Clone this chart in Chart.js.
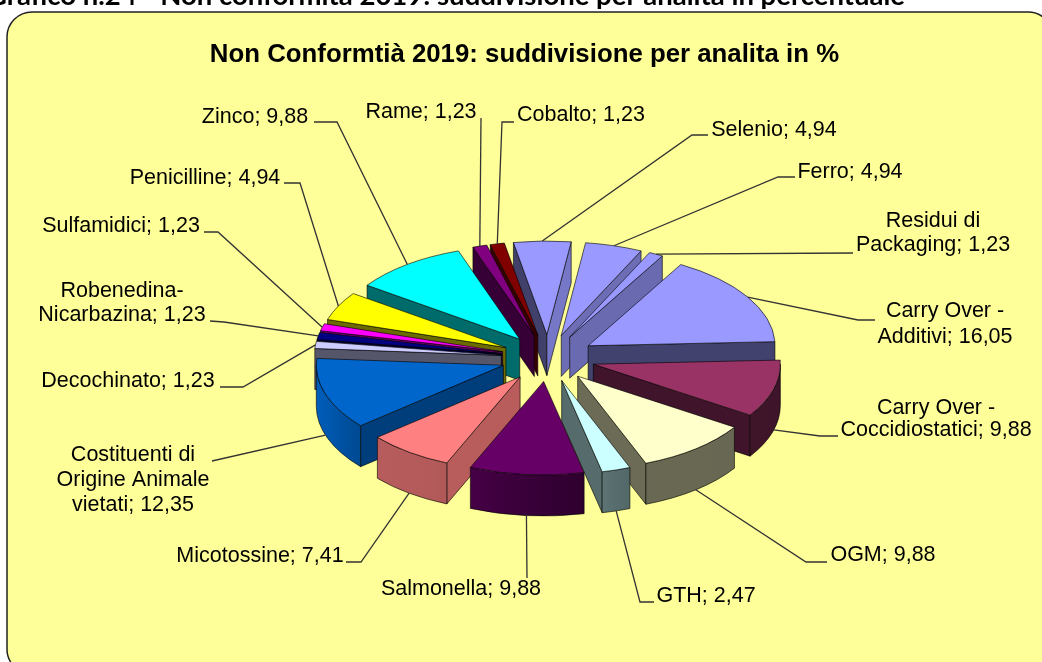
<!DOCTYPE html>
<html><head><meta charset="utf-8">
<style>html,body{margin:0;padding:0;background:#fff;overflow:hidden}canvas{display:block}</style>
<script src="https://cdn.jsdelivr.net/npm/chart.js@4"></script>
</head><body><canvas id="c" width="1042" height="662"></canvas>
<script>
const categories = ["Selenio","Ferro","Residui di\nPackaging","Carry Over -\nAdditivi","Carry Over -\nCoccidiostatici","OGM","GTH","Salmonella","Micotossine","Costituenti di\nOrigine Animale\nvietati","Decochinato","Robenedina-\nNicarbazina","Sulfamidici","Penicilline","Zinco","Rame","Cobalto"];
const values = [4.94,4.94,1.23,16.05,9.88,9.88,2.47,9.88,7.41,12.35,1.23,1.23,1.23,4.94,9.88,1.23,1.23];
const colors = ["#9999FF","#9999FF","#9999FF","#9999FF","#993366","#FFFFCC","#CCFFFF","#660066","#FF8080","#0066CC","#CCCCFF","#000080","#FF00FF","#FFFF00","#00FFFF","#800080","#800000"];
const pageHeading = "Grafico n.24 - Non conformità 2019: suddivisione per analita in percentuale";
const chartTitle = "Non Conformtià 2019: suddivisione per analita in %";

// label placement: text centre x, first line centre y, line step, leader knee points
const labelLayout = [
 {x:774,y:130,step:0,knees:[[708,135],[692,135]]},
 {x:850,y:172,step:0,knees:[[795,177],[778,177]]},
 {x:933,y:221,step:24,knees:[[853,253]]},
 {x:945,y:311,step:26,knees:[[875,320],[858,320]]},
 {x:936,y:408,step:22,knees:[[838,436],[820,436]]},
 {x:883,y:555,step:0,knees:[[827,562],[806,562]]},
 {x:706,y:596,step:0,knees:[[654,602],[640,602]]},
 {x:461,y:589,step:0,knees:[[527,578]]},
 {x:260,y:556,step:0,knees:[[346,562],[361,562]]},
 {x:133,y:455,step:25,knees:[[212,461]]},
 {x:128,y:381,step:0,knees:[[220,387],[243,387]]},
 {x:122,y:291,step:24,knees:[[210,321],[224,322]]},
 {x:121,y:226,step:0,knees:[[204,232],[218,232]]},
 {x:205,y:178,step:0,knees:[[284,183],[300,183]]},
 {x:255,y:117,step:0,knees:[[314,122],[337,122]]},
 {x:421,y:112,step:0,knees:[[481,118]]},
 {x:581,y:115,step:0,knees:[[514,122],[502,122]]}
];

const CX=548, CY=358, K=0.5, EXPLODE=47, DEPTH=41, RADIUS=187;
const outerShade=[[90,.40],[160,.41],[170,.47],[190,.58],[205,.70],[232,.72],[276,.95]];
const deg=Math.PI/180;
function lerpTable(t,v){
  if(v<=t[0][0])return t[0][1];
  for(let i=1;i<t.length;i++){ if(v<=t[i][0]){const a=t[i-1],b=t[i];return a[1]+(b[1]-a[1])*(v-a[0])/(b[0]-a[0]);} }
  return t[t.length-1][1];
}
function shade(hex,f){
  const n=parseInt(hex.slice(1),16);
  return `rgb(${Math.round((n>>16&255)*f)},${Math.round((n>>8&255)*f)},${Math.round((n&255)*f)})`;
}
function normShade(n){ n=((n%360)+360)%360; if(n<=100)return .78; if(n>=180)return .42; return .78-.0045*(n-100); }
function geom(el){
  const mid=(el.startAngle+el.endAngle)/2;
  const tx=CX+EXPLODE*Math.cos(mid), ty=CY+K*EXPLODE*Math.sin(mid);
  const pt=a=>[tx+el.outerRadius*Math.cos(a),ty+K*el.outerRadius*Math.sin(a)];
  return {mid,tx,ty,pt};
}
const EDGE='rgba(0,0,0,.6)';
function drawWalls(ctx,el,col){
  const g=geom(el), s=el.startAngle, e=el.endAngle, r=el.outerRadius;
  const ts=s/deg+90, te=e/deg+90;
  const radial=(a,n)=>{
    if(Math.cos(n*deg)>=0)return;
    const p=g.pt(a);
    ctx.beginPath();ctx.moveTo(g.tx,g.ty);ctx.lineTo(p[0],p[1]);ctx.lineTo(p[0],p[1]+DEPTH);ctx.lineTo(g.tx,g.ty+DEPTH);ctx.closePath();
    ctx.fillStyle=shade(col,normShade(n));ctx.fill();ctx.stroke();
  };
  ctx.lineWidth=1;ctx.strokeStyle=EDGE;
  radial(s,ts-90);
  radial(e,te+90);
  const t1=Math.max(ts,90), t2=Math.min(te,270);
  if(t2>t1){
    const a1=(t1-90)*deg,a2=(t2-90)*deg,p1=g.pt(a1),p2=g.pt(a2);
    const grad=ctx.createLinearGradient(p1[0],0,p2[0],0);
    for(let i=0;i<=6;i++){grad.addColorStop(i/6,shade(col,lerpTable(outerShade,t1+(t2-t1)*i/6)));}
    ctx.beginPath();
    ctx.ellipse(g.tx,g.ty,r,K*r,0,a1,a2,false);
    ctx.ellipse(g.tx,g.ty+DEPTH,r,K*r,0,a2,a1,true);
    ctx.closePath();ctx.fillStyle=grad;ctx.fill();ctx.stroke();
  }
}
function drawTop(ctx,el){
  const g=geom(el), r=el.outerRadius;
  ctx.save();
  ctx.translate(g.tx,g.ty);ctx.scale(1,K);ctx.translate(-el.x,-el.y);
  el.draw(ctx);
  ctx.restore();
  ctx.beginPath();ctx.moveTo(g.tx,g.ty);
  ctx.ellipse(g.tx,g.ty,r,K*r,0,el.startAngle,el.endAngle,false);
  ctx.closePath();ctx.lineWidth=1;ctx.strokeStyle=EDGE;ctx.stroke();
}
const pie3d={
  id:'pie3d',
  beforeDraw(chart){
    const ctx=chart.ctx;
    ctx.save();
    ctx.fillStyle='#fff';ctx.fillRect(0,0,1042,662);
    ctx.font='bold 27.5px Lato';ctx.fillStyle='#000';ctx.textAlign='right';ctx.textBaseline='alphabetic';
    ctx.fillText(pageHeading,905,5);
    ctx.beginPath();ctx.roundRect(7,12,1046,662,25);
    ctx.fillStyle='#FFFF99';ctx.fill();ctx.lineWidth=1.5;ctx.strokeStyle='#222';ctx.stroke();
    ctx.restore();
  },
  beforeDatasetDraw(chart,args){
    const ctx=chart.ctx, arcs=chart.getDatasetMeta(args.index).data;
    const order=arcs.map((el,i)=>i).sort((a,b)=>{
      const m=i=>(arcs[i].startAngle+arcs[i].endAngle)/2;
      return Math.sin(m(a))-Math.sin(m(b));
    });
    ctx.save();
    order.forEach(i=>{drawWalls(ctx,arcs[i],colors[i]);drawTop(ctx,arcs[i]);});
    arcs.forEach((el,i)=>{
      const L=labelLayout[i], g=geom(el), p=g.pt(g.mid), front=Math.sin(g.mid)>0;
      const end=[p[0],p[1]+(front?DEPTH:0)];
      ctx.beginPath();ctx.moveTo(L.knees[0][0],L.knees[0][1]);
      L.knees.slice(1).forEach(k=>ctx.lineTo(k[0],k[1]));
      ctx.lineTo(end[0],end[1]);
      ctx.lineWidth=1.3;ctx.strokeStyle='#333';ctx.stroke();
      const lines=categories[i].split('\n');
      lines[lines.length-1]+='; '+values[i].toFixed(2).replace('.',',');
      ctx.font='21.5px "Liberation Sans"';ctx.fillStyle='#000';ctx.textAlign='center';ctx.textBaseline='middle';
      lines.forEach((t,j)=>ctx.fillText(t,L.x,L.y+j*L.step));
    });
    ctx.restore();
    return false;
  }
};
new Chart(document.getElementById('c'),{
  type:'pie',
  data:{labels:categories,datasets:[{data:values,backgroundColor:colors,borderWidth:0,offset:0}]},
  options:{
    responsive:false,animation:false,rotation:-10.3,radius:RADIUS,
    layout:{padding:{left:7}},
    plugins:{
      legend:{display:false},tooltip:{enabled:false},
      title:{display:true,text:chartTitle,color:'#000',font:{family:'"Liberation Sans"',size:25.8,weight:'bold'},padding:{top:39,bottom:0}}
    }
  },
  plugins:[pie3d]
});
</script></body></html>
